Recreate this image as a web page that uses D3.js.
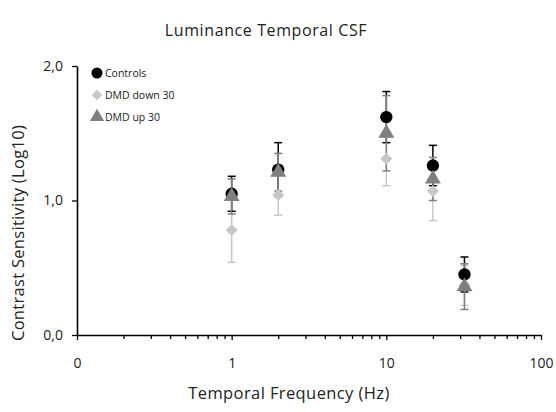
<!DOCTYPE html>
<html><head><meta charset="utf-8">
<script src="https://cdn.jsdelivr.net/npm/d3@7"></script>
<style>body{margin:0;background:#fff}text{font-family:"Open Sans",sans-serif}</style>
</head><body><svg id="c" width="556" height="412"></svg>
<script>
const frequencies = [1, 2, 10, 20, 32];
const controls = [1.05, 1.23, 1.62, 1.26, 0.45];
const controlsErr = [0.13, 0.20, 0.19, 0.15, 0.13];
const dmdDown = [0.78, 1.04, 1.31, 1.07, 0.37];
const dmdDownErr = [0.24, 0.15, 0.20, 0.22, 0.15];
const dmdUp = [1.03, 1.21, 1.50, 1.16, 0.36];
const dmdUpErr = [0.13, 0.14, 0.28, 0.16, 0.17];
const xTicks = [0.1, 1, 10, 100];
const xTickLabels = ["0", "1", "10", "100"];
const yTicks = [0, 1, 2];
const yTickLabels = ["0,0", "1,0", "2,0"];

const series = [
  {name: "DMD down 30", values: dmdDown, err: dmdDownErr, color: "#c8c8c8", shape: d3.symbolDiamond2},
  {name: "Controls", values: controls, err: controlsErr, color: "#000000", shape: d3.symbolCircle},
  {name: "DMD up 30", values: dmdUp, err: dmdUpErr, color: "#7f7f7f", shape: d3.symbolTriangle}
];
const legendOrder = ["Controls", "DMD down 30", "DMD up 30"];

const svg = d3.select("#c");
const x = d3.scaleLog().domain([0.1, 100]).range([77, 541]);
const y = d3.scaleLinear().domain([0, 2]).range([335, 66]);

// title
svg.append("text").attr("x", 266).attr("y", 36).attr("text-anchor", "middle")
  .attr("font-size", 16).attr("letter-spacing", 0.6).attr("fill", "#222").text("Luminance Temporal CSF");

// x axis
const minor = [];
for (let d = 0.1; d < 100; d *= 10) for (let k = 2; k <= 9; k++) minor.push(+(d * k).toPrecision(3));
const gx = svg.append("g").attr("transform", "translate(0,335)");
gx.call(d3.axisBottom(x).tickValues(minor).tickSize(4).tickFormat(""));
gx.call(g => g.select(".domain").remove());
const gx2 = svg.append("g").attr("transform", "translate(0,335)");
gx2.call(d3.axisBottom(x).tickValues(xTicks).tickSize(5).tickSizeOuter(0)
  .tickFormat((d, i) => xTickLabels[i]));
gx2.selectAll(".tick text").attr("font-size", 14).attr("dy", 0).attr("y", 33).attr("fill", "#222");
svg.selectAll(".domain").attr("stroke-width", 1.6);
svg.selectAll(".tick line").attr("stroke-width", 1.3);

// y axis
const gy = svg.append("g").attr("transform", "translate(77,0)");
gy.call(d3.axisLeft(y).tickValues(yTicks).tickSize(5).tickSizeOuter(0)
  .tickFormat((d, i) => yTickLabels[i]));
gy.selectAll(".tick text").attr("font-size", 14).attr("x", -14).attr("fill", "#222");
gy.select(".domain").attr("stroke-width", 1.6);
gy.selectAll(".tick line").attr("stroke-width", 1.3);

// axis titles
svg.append("text").attr("x", 289).attr("y", 399).attr("text-anchor", "middle")
  .attr("font-size", 16.5).attr("letter-spacing", 0.4).attr("fill", "#222").text("Temporal Frequency (Hz)");
svg.append("text").attr("transform", "translate(24,233) rotate(-90)").attr("text-anchor", "middle")
  .attr("font-size", 16.5).attr("letter-spacing", 0.3).attr("fill", "#222").text("Contrast Sensitivity (Log10)");

// error bars + markers
series.forEach(s => {
  const g = svg.append("g");
  frequencies.forEach((f, i) => {
    const cx = x(f), v = s.values[i], e = s.err[i];
    g.append("line").attr("x1", cx).attr("x2", cx).attr("y1", y(v + e)).attr("y2", y(v - e))
      .attr("stroke", s.color).attr("stroke-width", 1.5);
    [v + e, v - e].forEach(t => g.append("line").attr("x1", cx - 4).attr("x2", cx + 4)
      .attr("y1", y(t)).attr("y2", y(t)).attr("stroke", s.color).attr("stroke-width", 1.5));
  });
});
const sizes = {"Controls": 120, "DMD down 30": 90, "DMD up 30": 110};
series.forEach(s => {
  svg.append("g").selectAll("path").data(frequencies).join("path")
    .attr("transform", (f, i) => `translate(${x(f)},${y(s.values[i])})`)
    .attr("d", d3.symbol().type(s.shape).size(sizes[s.name])).attr("fill", s.color);
});

// legend
legendOrder.forEach((n, i) => {
  const s = series.find(q => q.name === n);
  const ly = 73 + i * 22;
  svg.append("path").attr("transform", `translate(97,${ly})`)
    .attr("d", d3.symbol().type(s.shape).size(sizes[n] * 0.8)).attr("fill", s.color);
  svg.append("text").attr("x", 105).attr("y", ly + 4).attr("font-size", 10.5).attr("fill", "#222").text(n);
});
</script></body></html>
